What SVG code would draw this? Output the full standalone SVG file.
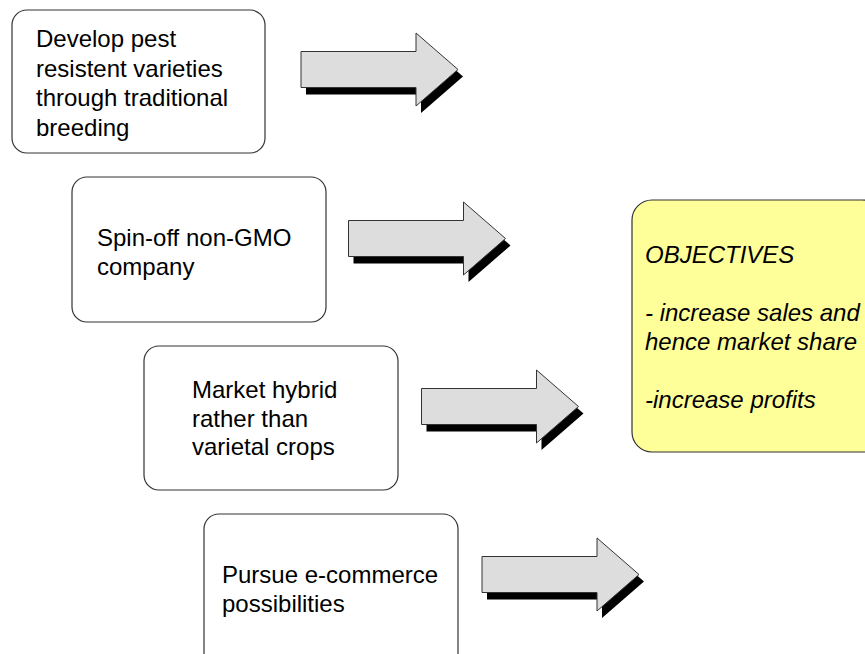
<svg xmlns="http://www.w3.org/2000/svg" width="865" height="654" viewBox="0 0 865 654">
<defs>
<style>
.box{fill:#ffffff;stroke:#333333;stroke-width:1.2}
.obj{fill:#ffff99;stroke:#333333;stroke-width:1.2}
.t{font-family:"Liberation Sans",Arial,sans-serif;font-size:24px;fill:#000000}
.ti{font-family:"Liberation Sans",Arial,sans-serif;font-size:24px;font-style:italic;fill:#000000}
.arr{fill:#dddddd;stroke:#333333;stroke-width:1}
.sh{fill:#000000}
</style>
<path id="arrowShape" d="M0,18.5 H115 V0 L157,36.5 L115,73 V54.5 H0 Z"/>
</defs>
<rect width="865" height="654" fill="#ffffff"/>
<g id="n1">
<rect class="box" x="12" y="10" width="253" height="143" rx="15"/>
<text class="t" x="36" y="47">Develop pest</text>
<text class="t" x="36" y="76.5">resistent varieties</text>
<text class="t" x="36" y="106">through traditional</text>
<text class="t" x="36" y="135.5">breeding</text>
</g>
<g id="n2">
<rect class="box" x="72" y="177" width="254" height="145" rx="15"/>
<text class="t" x="97" y="246">Spin-off non-GMO</text>
<text class="t" x="97" y="274.5">company</text>
</g>
<g id="n3">
<rect class="box" x="144" y="346" width="254" height="144" rx="15"/>
<text class="t" x="192" y="398">Market hybrid</text>
<text class="t" x="192" y="426.5">rather than</text>
<text class="t" x="192" y="455">varietal crops</text>
</g>
<g id="n4">
<rect class="box" x="204" y="514" width="254" height="160" rx="15"/>
<text class="t" x="222" y="583">Pursue e-commerce</text>
<text class="t" x="222" y="611.5">possibilities</text>
</g>
<g id="objectives">
<rect class="obj" x="632" y="200" width="250" height="252" rx="20"/>
<text class="ti" x="645" y="263">OBJECTIVES</text>
<text class="ti" x="645" y="321">- increase sales and</text>
<text class="ti" x="645" y="350">hence market share</text>
<text class="ti" x="645" y="408">-increase profits</text>
</g>
<g id="connectors">
<g transform="translate(301,33)">
<use href="#arrowShape" class="sh" transform="translate(5,7)"/>
<use href="#arrowShape" class="arr"/>
</g>
<g transform="translate(348.5,202)">
<use href="#arrowShape" class="sh" transform="translate(5,7)"/>
<use href="#arrowShape" class="arr"/>
</g>
<g transform="translate(421.5,370)">
<use href="#arrowShape" class="sh" transform="translate(5,7)"/>
<use href="#arrowShape" class="arr"/>
</g>
<g transform="translate(482,538)">
<use href="#arrowShape" class="sh" transform="translate(5,7)"/>
<use href="#arrowShape" class="arr"/>
</g>
</g>
</svg>
